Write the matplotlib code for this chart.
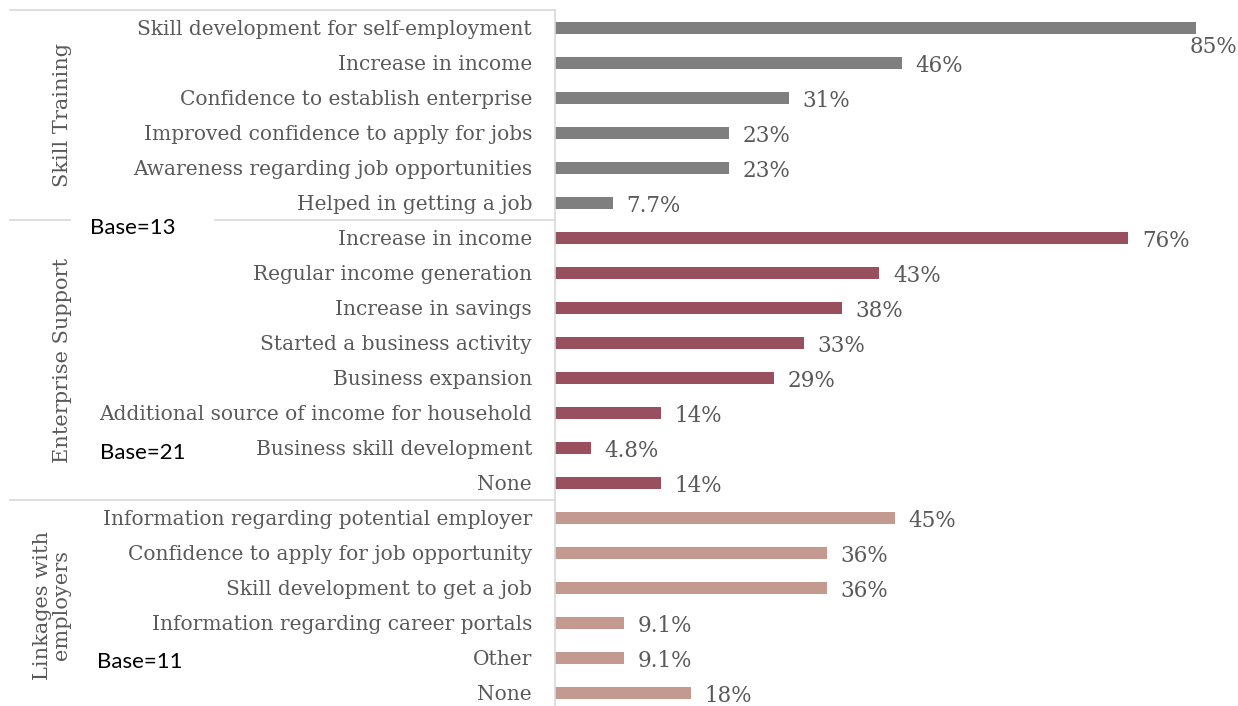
import matplotlib.pyplot as plt
from matplotlib.lines import Line2D
from matplotlib.transforms import blended_transform_factory

skill_items = [
    "Skill development for self-employment",
    "Increase in income",
    "Confidence to establish enterprise",
    "Improved confidence to apply for jobs",
    "Awareness regarding job opportunities",
    "Helped in getting a job",
]
skill_values = [85, 46, 31, 23, 23, 7.7]

enterprise_items = [
    "Increase in income",
    "Regular income generation",
    "Increase in savings",
    "Started a business activity",
    "Business expansion",
    "Additional source of income for household",
    "Business skill development",
    "None",
]
enterprise_values = [76, 43, 38, 33, 29, 14, 4.8, 14]

linkage_items = [
    "Information regarding potential employer",
    "Confidence to apply for job opportunity",
    "Skill development to get a job",
    "Information regarding career portals",
    "Other",
    "None",
]
linkage_values = [45, 36, 36, 9.1, 9.1, 18]

groups = ["Skill Training", "Enterprise Support", "Linkages with\nemployers"]
bases = ["Base=13", "Base=21", "Base=11"]
colors = ["#7f7f7f", "#984f5e", "#c49a90"]

serif = "DejaVu Serif"
label_grey = "#595959"
rule_grey = "#d9d9d9"

fig = plt.figure(figsize=(12.38, 7.06), dpi=100)
W, H = 1238, 706
ax = fig.add_axes([555 / W, (706 - 710.5) / H, (1234 - 555) / W, 700 / H])

labels = skill_items + enterprise_items + linkage_items
values = skill_values + enterprise_values + linkage_values
bar_colors = ([colors[0]] * len(skill_items) + [colors[1]] * len(enterprise_items)
              + [colors[2]] * len(linkage_items))
rows = list(range(len(labels)))

ax.barh(rows, values, height=0.32, color=bar_colors)
ax.set_xlim(0, 90)
ax.set_ylim(len(labels) - 0.5, -0.5)
ax.set_yticks(rows)
ax.set_yticklabels(labels, fontfamily=serif, fontsize=14.5, color=label_grey)
ax.tick_params(axis="y", length=0, pad=16.5)
ax.set_xticks([])
for side in ["top", "right", "bottom"]:
    ax.spines[side].set_visible(False)
ax.spines["left"].set_color(rule_grey)
ax.spines["left"].set_linewidth(1.2)

# value labels; the longest bar gets its label tucked under the bar end
for r, v in zip(rows, values):
    txt = f"{v:g}%"
    if v > 80:
        ax.text(90.5, r + 0.55, txt, ha="right", va="center",
                fontfamily=serif, fontsize=15.5, color=label_grey, clip_on=False)
    else:
        ax.text(v + 1.8, r + 0.1, txt, ha="left", va="center",
                fontfamily=serif, fontsize=15.5, color=label_grey)

# group separators
trans = blended_transform_factory(fig.transFigure, ax.transData)
x0, x_axis = 10 / W, 555 / W
n1 = len(skill_items)
n2 = n1 + len(enterprise_items)
segments = [
    (x0, x_axis, -0.5),
    (x0, 70 / W, n1 - 0.5),
    (215 / W, x_axis, n1 - 0.5),
    (x0, x_axis, n2 - 0.5),
]
for xa, xb, y in segments:
    fig.add_artist(Line2D([xa, xb], [y, y], transform=trans,
                          color=rule_grey, linewidth=1.2))

# group titles, rotated
centers = [(n1 - 1) / 2, (n1 + n2 - 1) / 2, (n2 + len(labels) - 1) / 2]
group_x = [62 / W, 62 / W, 52 / W]
for g, c, gx in zip(groups, centers, group_x):
    fig.text(gx, c, g, rotation=90, ha="center", va="center",
             transform=trans, fontfamily=serif, fontsize=15,
             color=label_grey, linespacing=1.0)

# sample sizes
base_pos = [(90 / W, n1 - 0.29), (100 / W, n2 - 1.86), (97 / W, len(labels) - 1.89)]
for b, (bx, by) in zip(bases, base_pos):
    fig.text(bx, by, b, ha="left", va="center", transform=trans,
             fontfamily="Lato", fontsize=16, color="black")

fig.savefig("out.png", dpi=100)
